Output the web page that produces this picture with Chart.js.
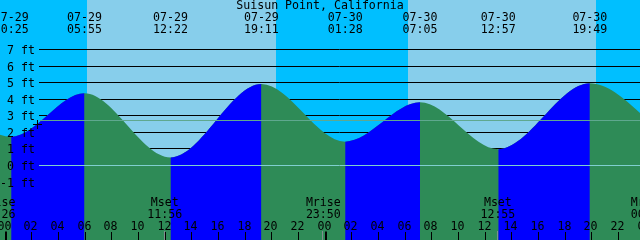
<!DOCTYPE html>
<html><head><meta charset="utf-8">
<script src="https://cdn.jsdelivr.net/npm/chart.js@4/dist/chart.umd.min.js"></script>
<style>html,body{margin:0;padding:0;background:#00bfff;overflow:hidden}#c{display:block}</style>
</head><body>
<canvas id="c" width="640" height="240"></canvas>
<script>
const title = 'Suisun Point, California';
// tide extremes (hours from 07-29 00:00, feet); first and last are off-picture neighbours
const tideHours = [-5.6, 0.417, 5.917, 12.367, 19.183, 25.467, 31.083, 36.95, 43.817, 50.2];
const tideFeet  = [4.9, 1.74, 4.36, 0.49, 4.92, 1.44, 3.81, 0.98, 4.96, 1.3];
const eventHours = [0.417, 5.917, 12.367, 19.183, 25.467, 31.083, 36.95, 43.817];
const eventDates = ['07-29','07-29','07-29','07-29','07-30','07-30','07-30','07-30'];
const eventTimes = ['00:25','05:55','12:22','19:11','01:28','07:05','12:57','19:49'];
const sunriseHours = [6.08, 30.16];
const sunsetHours  = [20.28, 44.28];
const moonHours = [-0.57, 11.93, 23.83, 36.92, 48.2];
const moonNames = ['Mrise','Mset','Mrise','Mset','Mrise'];
const moonTimes = ['23:26','11:56','23:50','12:55','00:14'];
const yTickValues = [7, 6, 5, 4, 3, 2, 1, 0, -1];
const yTickLabels = ['7 ft','6 ft','5 ft','4 ft','3 ft','2 ft','1 ft','0 ft','-1 ft'];
const hourTickValues = [0,2,4,6,8,10,12,14,16,18,20,22,24,26,28,30,32,34,36,38,40,42,44,46,48];
const hourTickLabels = ['00','02','04','06','08','10','12','14','16','18','20','22','00','02','04','06','08','10','12','14','16','18','20','22','00'];
const meanLevel = 2.72;
const datumLevel = 0;
const markHour = 2.415, markFeet = 2.46;

const NIGHT = '#00bfff', DAY = '#87ceeb', FLOOD = '#0000ff', EBB = '#2e8b57';
const DATUM_COLOR = '#7fcfcf', MEAN_COLOR = '#5fa88f';
const FONT = '11.6px "DejaVu Sans Mono", "Liberation Mono", monospace';

function txt(ctx, s, x, y, align) {
  ctx.textAlign = align || 'center';
  ctx.fillText(s, x, y);
}

const tidePlugin = {
  id: 'tideDecor',
  beforeDraw(chart) {
    const {ctx, scales: {x}} = chart;
    ctx.save();
    ctx.fillStyle = NIGHT;
    ctx.fillRect(0, 0, chart.width, chart.height);
    ctx.fillStyle = DAY;
    for (let i = 0; i < sunriseHours.length; i++) {
      const a = Math.round(x.getPixelForValue(sunriseHours[i]));
      const b = Math.round(x.getPixelForValue(sunsetHours[i]));
      ctx.fillRect(a, 0, b - a, chart.height);
    }
    ctx.restore();
  },
  beforeDatasetsDraw(chart) {
    const {ctx, scales: {y}} = chart;
    ctx.save();
    ctx.strokeStyle = '#000';
    ctx.lineWidth = 1;
    yTickValues.forEach(v => {
      if (v === datumLevel) return;
      const py = Math.floor(y.getPixelForValue(v)) + 0.5;
      ctx.beginPath(); ctx.moveTo(39, py); ctx.lineTo(chart.width, py); ctx.stroke();
    });
    ctx.restore();
  },
  afterDatasetsDraw(chart) {
    const {ctx, scales: {x, y}} = chart;
    ctx.save();
    ctx.lineWidth = 1;
    ctx.strokeStyle = DATUM_COLOR;
    let py = Math.floor(y.getPixelForValue(datumLevel)) + 0.5;
    ctx.beginPath(); ctx.moveTo(39, py); ctx.lineTo(chart.width, py); ctx.stroke();
    ctx.strokeStyle = MEAN_COLOR;
    py = Math.floor(y.getPixelForValue(meanLevel)) + 0.5;
    ctx.beginPath(); ctx.moveTo(40, py); ctx.lineTo(chart.width, py); ctx.stroke();
    const mx = Math.round(x.getPixelForValue(markHour)) - 0.5;
    const my = Math.round(y.getPixelForValue(markFeet)) - 0.5;
    ctx.strokeStyle = '#000';
    ctx.beginPath();
    ctx.moveTo(mx - 4.5, my); ctx.lineTo(mx + 4.5, my);
    ctx.moveTo(mx, my - 4.5); ctx.lineTo(mx, my + 4.5);
    ctx.stroke();

    ctx.fillStyle = '#000';
    ctx.font = FONT;
    ctx.textBaseline = 'alphabetic';
    txt(ctx, title, chart.width / 2, 9);
    eventHours.forEach((h, i) => {
      const px = x.getPixelForValue(h);
      txt(ctx, eventDates[i], px, 21);
      txt(ctx, eventTimes[i], px, 33);
    });
    yTickValues.forEach((v, i) => {
      const p = Math.floor(y.getPixelForValue(v)) + 0.5;
      txt(ctx, yTickLabels[i], 35, p + 4, 'right');
    });
    moonHours.forEach((h, i) => {
      const px = x.getPixelForValue(h);
      txt(ctx, moonNames[i], px, 206);
      txt(ctx, moonTimes[i], px, 218);
    });
    ctx.strokeStyle = '#7f8f8f';
    moonHours.forEach(h => {
      const px = Math.round(x.getPixelForValue(h)) - 0.5;
      ctx.beginPath(); ctx.moveTo(px, 231); ctx.lineTo(px, 240); ctx.stroke();
    });
    ctx.strokeStyle = '#000';
    hourTickValues.forEach((h, i) => {
      const raw = x.getPixelForValue(h);
      const midnight = h % 24 === 0;
      const px = midnight ? Math.round(raw) : Math.round(raw) - 0.5;
      ctx.lineWidth = midnight ? 2 : 1;
      ctx.beginPath(); ctx.moveTo(px, midnight ? 231.5 : 232); ctx.lineTo(px, 240); ctx.stroke();
      txt(ctx, hourTickLabels[i], Math.round(raw) - 1.5, 230);
    });
    ctx.restore();
  }
};

const tidePoints = tideHours.map((h, i) => ({x: h, y: tideFeet[i]}));
const common = {
  data: tidePoints,
  fill: 'start',
  borderColor: 'rgba(0,0,0,0)',
  borderWidth: 0,
  pointRadius: 0,
  tension: 0.4,
  cubicInterpolationMode: 'monotone'
};

new Chart(document.getElementById('c'), {
  type: 'line',
  data: {
    datasets: [
      // rising (flood) parts, drawn on top
      Object.assign({}, common, {
        backgroundColor: FLOOD,
        segment: {
          backgroundColor: c => (c.p1.parsed.y > c.p0.parsed.y ? FLOOD : 'rgba(0,0,0,0)')
        }
      }),
      // whole water body in ebb colour, drawn underneath
      Object.assign({}, common, {backgroundColor: EBB})
    ]
  },
  options: {
    responsive: false,
    animation: false,
    events: [],
    layout: {padding: 0},
    plugins: {legend: {display: false}, tooltip: {enabled: false}, title: {display: false}},
    scales: {
      x: {type: 'linear', display: false, min: -0.42, max: 47.58},
      y: {type: 'linear', display: false, min: -4.496, max: 9.988}
    }
  },
  plugins: [tidePlugin]
});
</script>
</body></html>
